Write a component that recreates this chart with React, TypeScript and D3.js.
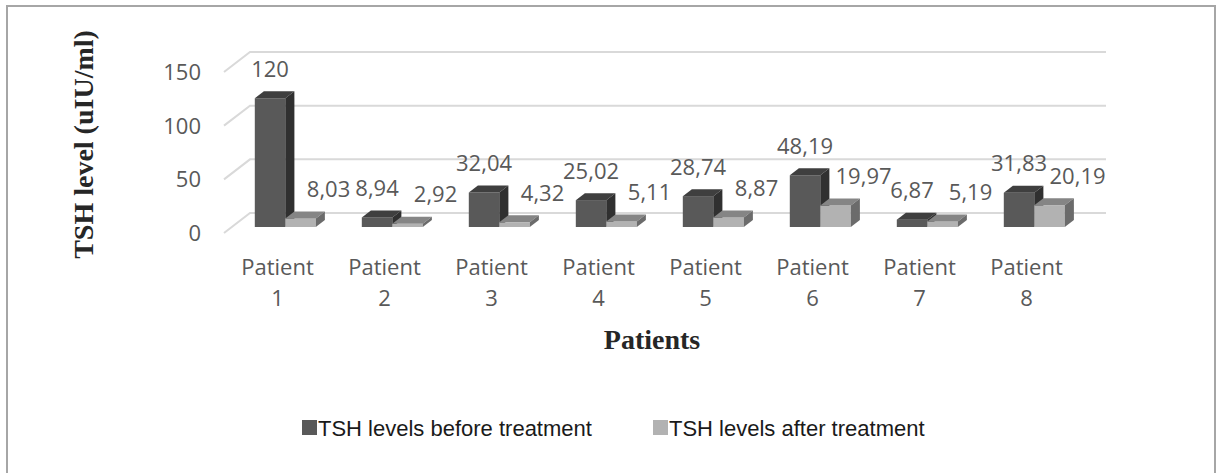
import React from 'react'
import * as d3 from 'd3'

const patients = ['1', '2', '3', '4', '5', '6', '7', '8']
const before = [120, 8.94, 32.04, 25.02, 28.74, 48.19, 6.87, 31.83]
const after = [8.03, 2.92, 4.32, 5.11, 8.87, 19.97, 5.19, 20.19]
const seriesNames = ['TSH levels before treatment', 'TSH levels after treatment']
const yTicks = [0, 50, 100, 150]

const W = 1216
const H = 473
// depth of the 3d floor (screen offset from front edge to back wall)
const DX = 26
const DY = 20
const Z0 = 0.3
const Z1 = 0.65

const colors = [
  { front: '#595959', top: '#3f3f3f', side: '#303030' },
  { front: '#b2b2b2', top: '#858585', side: '#6b6b6b' },
]

const fmt = (v: number) => (Number.isInteger(v) ? String(v) : v.toFixed(2).replace('.', ','))

const App = () => {
  const x0 = d3.scaleBand<string>().domain(patients).range([224, 1080])
  const x1 = d3.scaleBand<number>().domain([0, 1]).range([0, x0.bandwidth()]).paddingOuter(0.754)
  const y = d3.scaleLinear().domain([0, 150]).range([233, 72])

  const pt = (x: number, v: number, z: number) => [x + z * DX, y(v) - z * DY]
  const poly = (pts: number[][]) => pts.map((p) => p.join(',')).join(' ')

  const series = [before, after]
  const line = d3.line()

  const bars: any[] = []
  const labels: any[] = []
  patients.forEach((p, i) => {
    series.forEach((vals, s) => {
      const v = vals[i]
      const xa = x0(p)! + x1(s)!
      const xb = xa + x1.bandwidth()
      const c = colors[s]
      const fbl = pt(xa, 0, Z0)
      const fbr = pt(xb, 0, Z0)
      const ftl = pt(xa, v, Z0)
      const ftr = pt(xb, v, Z0)
      const btl = pt(xa, v, Z1)
      const btr = pt(xb, v, Z1)
      const bbr = pt(xb, 0, Z1)
      bars.push(
        <g key={`b${i}-${s}`}>
          <polygon points={poly([fbl, fbr, ftr, ftl])} fill={c.front} />
          <polygon points={poly([ftl, ftr, btr, btl])} fill={c.top} />
          <polygon points={poly([fbr, bbr, btr, ftr])} fill={c.side} />
        </g>
      )
      const cx = (ftl[0] + ftr[0]) / 2 + (s === 1 ? 28 : 0)
      labels.push(
        <text key={`l${i}-${s}`} x={cx} y={btl[1] - 14.5} textAnchor="middle"
          fontFamily="'Open Sans', sans-serif" fontSize={22} fill="#595959">
          {fmt(v)}
        </text>
      )
    })
  })

  const left = x0.range()[0]
  const right = x0.range()[1]

  return (
    <svg width={W} height={H} style={{ position: 'absolute', left: 0, top: 0, background: '#fff' }}>
      <rect x={7} y={6} width={1208} height={480} fill="#fff" stroke="#a6a6a6" strokeWidth={2} />

      {yTicks.map((t) => (
        <g key={`g${t}`}>
          <path
            d={line([pt(left, t, 0) as [number, number], pt(left, t, 1) as [number, number], pt(right, t, 1) as [number, number]])!}
            fill="none" stroke="#d9d9d9" strokeWidth={2} />
          <text x={201} y={y(t)} dy="0.36em" textAnchor="end"
            fontFamily="'Open Sans', sans-serif" fontSize={22} fill="#595959">{t}</text>
        </g>
      ))}

      {bars}
      {labels}

      {patients.map((p) => (
        <text key={`c${p}`} textAnchor="middle" fontFamily="'Open Sans', sans-serif" fontSize={22} fill="#595959">
          <tspan x={x0(p)! + x0.bandwidth() / 2} y={y(0) + 42}>Patient</tspan>
          <tspan x={x0(p)! + x0.bandwidth() / 2} y={y(0) + 73}>{p}</tspan>
        </text>
      ))}

      <text transform={`translate(93,144.5) rotate(-90)`} textAnchor="middle"
        fontFamily="'Liberation Serif', serif" fontWeight="bold" fontSize={28} fill="#262626">
        TSH level (uIU/ml)
      </text>
      <text x={(left + right) / 2} y={349} textAnchor="middle"
        fontFamily="'Liberation Serif', serif" fontWeight="bold" fontSize={28} fill="#262626">
        Patients
      </text>

      {seriesNames.map((name, s) => {
        const lx = s === 0 ? 302 : 653
        return (
          <g key={`lg${s}`}>
            <rect x={lx} y={420} width={15} height={15} fill={colors[s].front} />
            <text x={lx + 16} y={436} fontFamily="'Liberation Sans', Arial, sans-serif" fontSize={22} fill="#1a1a1a">
              {name}
            </text>
          </g>
        )
      })}
    </svg>
  )
}

export default App
